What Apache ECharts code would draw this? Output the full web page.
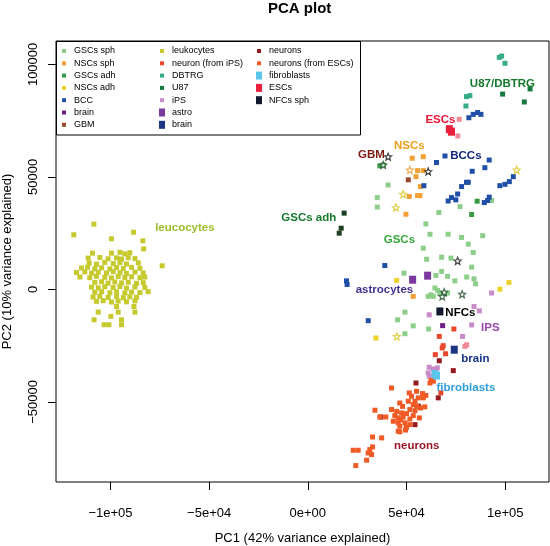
<!DOCTYPE html>
<html><head><meta charset="utf-8">
<script src="https://cdn.jsdelivr.net/npm/echarts@6/dist/echarts.min.js"></script>
<style>html,body{margin:0;padding:0;background:#fff}#c{width:550px;height:546px}</style>
</head><body><div id="c"></div>
<script>
// ---- tick values / labels ----
const xTickValues = [-100000, -50000, 0, 50000, 100000];
const xTickLabels = ['\u22121e+05', '\u22125e+04', '0e+00', '5e+04', '1e+05'];
const yTickValues = [-50000, 0, 50000, 100000];
const yTickLabels = ['\u221250000', '0', '50000', '100000'];

// ---- data (PC1, PC2) ----
const leukocytes = [[-108400,29000],[-118600,24300],[-88300,25400],[-99500,22500],[-83600,21600],[-83200,18000],[-73800,10500],
[-109100,16100],[-99500,16100],[-95200,16500],[-92700,15800],[-90200,16300],
[-111300,13900],[-105400,14200],[-101200,13600],[-96900,14000],[-94400,13500],[-91000,14100],[-87600,13700],
[-110800,11700],[-107100,11200],[-102900,12000],[-98600,11500],[-95200,11900],[-91900,11300],[-85900,11800],
[-114700,9500],[-111600,9800],[-107900,9200],[-104500,9600],[-100300,9100],[-96900,9700],[-93500,9300],[-89300,9800],[-85100,9400],
[-117200,7500],[-113000,7800],[-109600,7200],[-106200,7600],[-102000,7300],[-98600,7900],[-95200,7400],[-91900,7100],[-87600,7700],[-83400,7300],
[-115500,5500],[-110500,5200],[-107100,5800],[-102900,5400],[-99500,5100],[-96100,5700],[-92700,5300],[-89300,5600],[-85100,5200],[-82600,5500],
[-107900,3100],[-104500,3400],[-101200,2800],[-97800,3300],[-94400,2900],[-91000,3200],[-86800,2700],[-83400,3000],
[-109600,1000],[-106200,700],[-102900,1200],[-98600,800],[-95200,1300],[-91900,600],[-87600,1100],[-82600,900],
[-107900,-1300],[-104500,-1000],[-100300,-1500],[-96900,-1100],[-92700,-1600],[-89300,-1200],[-85100,-1400],[-80900,-1000],
[-108800,-3400],[-105400,-3100],[-101200,-3600],[-96900,-3200],[-93500,-3700],[-90200,-3300],[-86800,-3500],
[-107100,-5300],[-103700,-5000],[-99500,-5600],[-96100,-5200],[-91900,-5500],[-87600,-5100],
[-96900,-7600],[-88100,-7600],[-106200,-10100],[-96100,-10100],[-87600,-10100],[-99800,-12000],[-108300,-13500],[-94400,-13500],[-103200,-15700],[-100800,-15700],[-94400,-15700]];

const gscsSph = [[40700,46400],[35200,40800],[35200,36600],[66400,34200],[77100,36800],[93100,39500],
[59800,29100],[61900,24500],[71100,24500],[77900,23100],[88600,23900],[58500,18300],[81300,20100],[83800,16400],
[67800,14300],[72500,13900],[60200,13400],[83000,9900],[48700,7200],[64900,6200],[67800,8000],[70800,5800],
[74500,3800],[80500,5500],[84200,4700],[85000,2500],[64400,600],[65800,-500],[66900,-1600],[62400,-2400],
[61000,-3100],[63600,-3100],[70800,-1600],[49200,-10100],[45500,-13500],[53400,-16200],[49200,-19700],[61200,-17600]];
const gscsAdh = [[36500,54900],[38200,55300],[85800,39200],[83000,33300]];
const gscsAdhDark = [[18400,33900],[16900,27200],[15900,25000]];
const nscsSph = [[52900,58300],[58500,59000],[55600,52800],[58500,52800],[54800,50100],[57100,45700],
[55600,41700],[56800,41700],[51400,41300],[49700,33400],[53400,-3100]];
const nscsAdh = [[45000,4000],[97300,100],[101900,3100],[34500,-21600]];
const bcc = [[69500,59300],[65200,56400],[91900,57500],[89700,54100],[83300,52500],[58800,46100],[81300,47600],
[80400,47600],[77900,45700],[75900,42400],[72800,40800],[71100,39300],[75000,39800],[97300,46100],[99900,46700],
[102100,47900],[104100,50100],[91900,41000],[91100,39500],[89400,38600],[81600,76300],[83800,77800],[86000,78600],
[87700,77800],[39000,10600],[19600,3800],[19900,2200],[30600,-13900]];
const brainSmall = [[68300,-16100]];
const gbm = [[50900,48700]];
const neuronIPS = [[66600,-20900],[74000,-17600],[68600,-25000],[68100,-26000],[64600,-29000],[69800,-28600],[67400,-46000]];
const dbtrg = [[97000,103100],[98200,103700],[99900,100500],[80400,85700],[82100,86100],[80100,81500]];
const u87 = [[98700,86800],[109700,83300],[112600,89100]];
const ips = [[93100,-1600],[84200,-7600],[86900,-9500],[61500,-11300],[83000,-15800],[78400,-20900],
[61500,-34600],[63600,-35400],[65600,-34900],[61000,-37100],[61500,-38600]];
const astro = [[53100,4300],[60700,6100]];
const brainBig = [[74200,-26800]];
const neurons = [[66600,-31700],[73700,-36100],[54800,-41600],[66100,-48200],[56000,-51900],[37000,-56700],[54300,-60100]];
const neuronsESC = [[62500,-40500],[61900,-41600],[63600,-40800],[42400,-43800],[51400,-46000],[55100,-45300],
[58100,-46300],[59800,-47100],[58500,-48200],[56000,-48200],[54300,-49700],[46600,-50500],[50900,-49700],
[53400,-51200],[55100,-51900],[57100,-52700],[59300,-52200],[51700,-53400],[54300,-53900],[34000,-53700],
[42400,-53400],[45000,-54200],[47500,-54900],[50000,-55200],[53400,-56100],[44100,-56100],[45800,-57100],
[48300,-56700],[51700,-57600],[56500,-57100],[36500,-56700],[39500,-56700],[43300,-58600],[45800,-59300],
[49200,-59300],[51700,-60100],[46600,-60800],[50000,-61300],[45800,-63000],[46600,-63300],[32800,-65600],
[37400,-66000],[32800,-70000],[31400,-71200],[30600,-72700],[32300,-73400],[23000,-71500],[25500,-71500],
[29800,-75900],[24300,-78300],[48000,-52000],[52500,-47500],[47000,-58000],[49500,-62500]];
const fibroblasts = [[64400,-37600],[65200,-38300]];
const escs = [[71700,71200],[72800,70100]];
const escsLight = [[76700,75600],[76000,68200],[79600,-25300],[80500,-24600]];
const nfcs = [[66900,-9800]];
const starsBlack = [[40700,59000],[61000,52400],[75900,12700]];
const starsDark = [[38200,55300],[69100,-1200],[68100,-3100],[78200,-2100]];
const starsYellow = [[48300,42300],[44600,36400],[105800,53100],[45100,-20900]];
const starsOrange = [[51700,53100]];

// ---- annotations ----
const noteText = ['leucocytes','GSCs adh','GBM','NSCs','ESCs','BCCs','U87/DBTRG','GSCs','astrocytes','NFCs','IPS','brain','fibroblasts','neurons'];
const notePC1 = [-62300, 500, 32200, 51400, 67200, 80100, 98600, 46400, 38800, 77300, 92500, 84900, 80100, 55200];
const notePC2 = [27400, 32000, 59800, 63800, 75500, 59300, 91300, 22100, -100, -10300, -17000, -30800, -43600, -69400];
const noteColor = ['#9cbd2e','#167a2c','#7e1a14','#efa01a','#e8173a','#14267a','#127a2a','#36a83c','#43338f','#000000','#9a47ad','#15328a','#2f9dd8','#9c1424'];

const SMALL = 'path://M0,0M10,10M3,3h4v4h-4z';
const BIG = 'path://M0,0M10,10M2,1h6v8h-6z';
const STAR = 'path://M0,-10L2.6,-3.6L9.5,-3.1L4.2,1.4L5.9,8.1L0,4.4L-5.9,8.1L-4.2,1.4L-9.5,-3.1L-2.6,-3.6Z';

const groups = [
  {name:'GSCs sph', data:gscsSph, color:'#8dcf8a'},
  {name:'NSCs sph', data:nscsSph, color:'#f3a035'},
  {name:'GSCs adh', data:gscsAdh, color:'#3a9a45'},
  {name:'NSCs adh', data:nscsAdh, color:'#ecd22a'},
  {name:'BCC', data:bcc, color:'#1f4fa6'},
  {name:'brain', data:brainSmall, color:'#6b1f86'},
  {name:'GBM', data:gbm, color:'#9a4a2a'},
  {name:'leukocytes', data:leukocytes, color:'#c6ca2e'},
  {name:'neuron (from iPS)', data:neuronIPS, color:'#e9472b'},
  {name:'DBTRG', data:dbtrg, color:'#35ad87'},
  {name:'U87', data:u87, color:'#17793f'},
  {name:'iPS', data:ips, color:'#c78cc9'},
  {name:'astro', data:astro, color:'#7a3a9f', big:true},
  {name:'brain ', data:brainBig, color:'#1b3584', big:true},
  {name:'neurons', data:neurons, color:'#961b1e'},
  {name:'neurons (from ESCs)', data:neuronsESC, color:'#f05a24'},
  {name:'fibroblasts', data:fibroblasts, color:'#5cc6ea', big:true},
  {name:'ESCs', data:escs, color:'#e8203c', big:true},
  {name:'NFCs sph', data:nfcs, color:'#121830', big:true}
];
const extra = [
  {name:'GSCs adh', data:gscsAdhDark, color:'#1d3f21'},
  {name:'ESCs light', data:escsLight, color:'#f08a96'}
];
const stars = [
  {name:'s1', data:starsBlack, color:'#111'},
  {name:'s2', data:starsDark, color:'#1d4a22'},
  {name:'s3', data:starsYellow, color:'#d9c21a'},
  {name:'s4', data:starsOrange, color:'#ee9a2a'}
];

const FONT = 'Liberation Sans, Arial, sans-serif';
const series = [];
groups.concat(extra).forEach(g => series.push({
  type:'scatter', name:g.name, data:g.data, symbol:'rect',
  symbolSize: g.big ? [7,8] : 5,
  itemStyle:{color:g.color, opacity:1}, z: g.big ? 4 : 3,
  emphasis:{disabled:true}, animation:false
}));
stars.forEach(s => series.push({
  type:'scatter', name:s.name, data:s.data, symbol:STAR, symbolSize:7,
  itemStyle:{color:'#ffffff', borderColor:s.color, borderWidth:1.2}, z:5,
  emphasis:{disabled:true}, animation:false
}));
series.push({
  type:'scatter', name:'notes', symbolSize:1, itemStyle:{color:'rgba(0,0,0,0)'}, z:6, animation:false,
  emphasis:{disabled:true}, silent:true,
  data: noteText.map((t,i) => ({name:t, value:[notePC1[i], notePC2[i]],
    label:{show:true, position:'inside', formatter:t, color:noteColor[i], opacity:1,
      textBorderWidth:0, textShadowBlur:0,
      fontFamily:FONT, fontWeight:'bold', fontSize:11.5}}))
});

function legendItem(n){
  const g = groups.find(x => x.name === n);
  return {name:n, icon: g.big ? BIG : SMALL};
}
const cols = [
  ['GSCs sph','NSCs sph','GSCs adh','NSCs adh','BCC','brain','GBM'],
  ['leukocytes','neuron (from iPS)','DBTRG','U87','iPS','astro','brain '],
  ['neurons','neurons (from ESCs)','fibroblasts','ESCs','NFCs sph']
];
const colLeft = [59, 157, 254];
const legends = cols.map((c,i) => ({
  orient:'vertical', left:colLeft[i], top:45, padding:0, itemGap:0.3,
  itemWidth:10, itemHeight:10, selectedMode:false,
  textStyle:{fontFamily:FONT, fontSize:9, lineHeight:12, color:'#000'},
  data: c.map(legendItem)
}));

const chart = echarts.init(document.getElementById('c'), null, {renderer:'canvas'});
chart.setOption({
  animation:false,
  backgroundColor:'#ffffff',
  title:{text:'PCA plot', left:268, top:1, padding:0,
    textStyle:{fontFamily:FONT, fontWeight:'bold', fontSize:15, color:'#000'}},
  grid:{left:56, right:1, top:41, bottom:64, show:true, borderColor:'#000', borderWidth:1,
    backgroundColor:'transparent', containLabel:false, outerBoundsMode:'none'},
  legend: legends,
  xAxis:{type:'value', min:-127600, max:122200,
    name:'PC1 (42% variance explained)', nameLocation:'middle', nameGap:50,
    nameTextStyle:{fontFamily:FONT, fontSize:13, color:'#000'},
    axisLine:{show:false, onZero:false}, splitLine:{show:false},
    axisTick:{show:true, inside:false, length:8, lineStyle:{color:'#000', width:1}, customValues:xTickValues},
    axisLabel:{customValues:xTickValues, margin:25, color:'#000', fontSize:13, fontFamily:FONT,
      formatter: v => { const i = xTickValues.indexOf(v); return i >= 0 ? xTickLabels[i] : ''; }}
  },
  yAxis:{type:'value', min:-85600, max:110400,
    name:'PC2 (10% variance explained)', nameLocation:'middle', nameGap:42, nameRotate:90,
    nameTextStyle:{fontFamily:FONT, fontSize:13, color:'#000'},
    axisLine:{show:false, onZero:false}, splitLine:{show:false},
    axisTick:{show:true, inside:false, length:8, lineStyle:{color:'#000', width:1}, customValues:yTickValues},
    axisLabel:{customValues:yTickValues, margin:16, rotate:90, color:'#000', fontSize:13, fontFamily:FONT,
      formatter: v => { const i = yTickValues.indexOf(v); return i >= 0 ? yTickLabels[i] : ''; }}
  },
  graphic:[{type:'rect', shape:{x:56.5, y:41.5, width:304, height:93.5}, style:{fill:null, stroke:'#000', lineWidth:1}, z:100}],
  series: series
});
</script></body></html>
